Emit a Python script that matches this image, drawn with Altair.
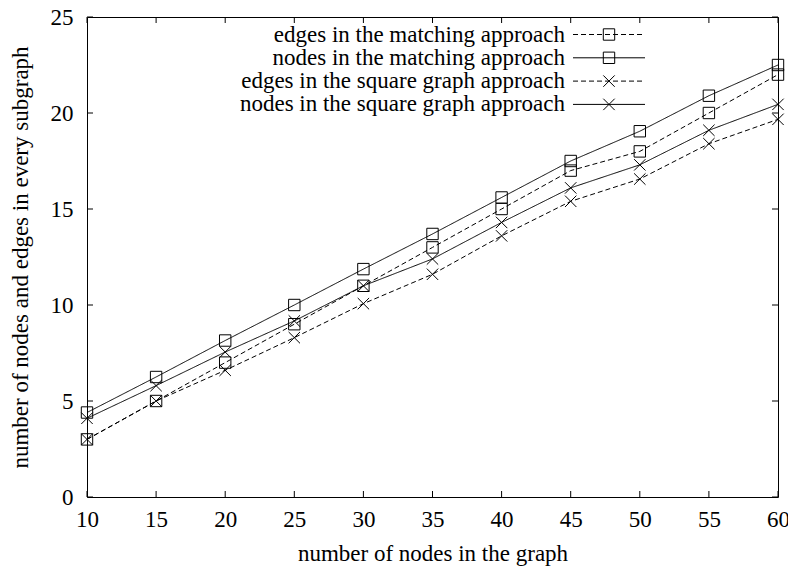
import altair as alt
import pandas as pd

x_vals = [10, 15, 20, 25, 30, 35, 40, 45, 50, 55, 60]
edges_matching = [3.0, 5.0, 7.0, 9.0, 11.0, 13.0, 15.0, 17.0, 18.0, 20.0, 22.0]
nodes_matching = [4.4, 6.25, 8.15, 10.0, 11.87, 13.7, 15.6, 17.5, 19.05, 20.9, 22.5]
edges_square = [3.0, 5.0, 6.6, 8.3, 10.07, 11.6, 13.6, 15.4, 16.56, 18.4, 19.67]
nodes_square = [4.1, 5.8, 7.55, 9.17, 11.0, 12.4, 14.3, 16.1, 17.3, 19.1, 20.45]

series = [
    "edges in the matching approach",
    "nodes in the matching approach",
    "edges in the square graph approach",
    "nodes in the square graph approach",
]
values = [edges_matching, nodes_matching, edges_square, nodes_square]

x_ticks = [10, 15, 20, 25, 30, 35, 40, 45, 50, 55, 60]
y_ticks = [0, 5, 10, 15, 20, 25]

FONT = "Liberation Serif"
FS = 23
W, H = 691, 480
XPATH = "M-1,-1L1,1M-1,1L1,-1"
DASH = [5, 3]
dash_range = [DASH, [1, 0], DASH, [1, 0]]
shape_range = ["square", "square", XPATH, XPATH]

rows = []
for name, vals in zip(series, values):
    for xv, yv in zip(x_vals, vals):
        rows.append({"x": xv, "y": yv, "series": name})
df = pd.DataFrame(rows)

xscale = alt.Scale(domain=[10, 60], nice=False, zero=False)
yscale = alt.Scale(domain=[0, 25], nice=False)

base = alt.Chart(df)
lines = base.mark_line(color="black", strokeWidth=1).encode(
    x=alt.X("x:Q", scale=xscale,
            axis=alt.Axis(values=x_ticks, title="number of nodes in the graph",
                          ticks=False, domain=False, grid=False, labelFlush=False,
                          labelPadding=11, titlePadding=11)),
    y=alt.Y("y:Q", scale=yscale,
            axis=alt.Axis(values=y_ticks, title="number of nodes and edges in every subgraph",
                          ticks=False, domain=False, grid=False, labelFlush=False,
                          labelPadding=14, titlePadding=18)),
    strokeDash=alt.StrokeDash("series:N", scale=alt.Scale(domain=series, range=dash_range), legend=None),
    detail="series:N",
)
points = base.mark_point(color="black", filled=False, size=130, strokeWidth=1, opacity=1).encode(
    x=alt.X("x:Q", scale=xscale),
    y=alt.Y("y:Q", scale=yscale),
    shape=alt.Shape("series:N", scale=alt.Scale(domain=series, range=shape_range), legend=None),
)

xt = pd.DataFrame({"x": x_ticks})
yt = pd.DataFrame({"y": y_ticks})
tick_len = 6
xticks_b = alt.Chart(xt).mark_rule(color="black").encode(x=alt.X("x:Q", scale=xscale), y=alt.value(H), y2=alt.value(H - tick_len))
xticks_t = alt.Chart(xt).mark_rule(color="black").encode(x=alt.X("x:Q", scale=xscale), y=alt.value(0), y2=alt.value(tick_len))
yticks_l = alt.Chart(yt).mark_rule(color="black").encode(y=alt.Y("y:Q", scale=yscale), x=alt.value(0), x2=alt.value(tick_len))
yticks_r = alt.Chart(yt).mark_rule(color="black").encode(y=alt.Y("y:Q", scale=yscale), x=alt.value(W), x2=alt.value(W - tick_len))

legend_layers = []
row_y0, row_dy = 17.5, 23.3
text_right, line_x1, line_x2, sym_x = 478, 486, 558, 522
for i, name in enumerate(series):
    yy = row_y0 + i * row_dy
    ldf = pd.DataFrame({"label": [name]})
    legend_layers.append(
        alt.Chart(ldf).mark_text(align="right", baseline="middle", font=FONT, fontSize=FS, color="black").encode(
            x=alt.value(text_right), y=alt.value(yy), text="label:N"))
    legend_layers.append(
        alt.Chart(ldf).mark_rule(color="black", strokeWidth=1, strokeDash=dash_range[i]).encode(
            x=alt.value(line_x1), x2=alt.value(line_x2), y=alt.value(yy)))
    legend_layers.append(
        alt.Chart(ldf).mark_point(color="black", filled=False, size=130, strokeWidth=1, opacity=1, shape=shape_range[i]).encode(
            x=alt.value(sym_x), y=alt.value(yy)))

chart = alt.layer(
    lines, points, xticks_b, xticks_t, yticks_l, yticks_r, *legend_layers
).properties(
    width=W, height=H,
    background="white",
    autosize=alt.AutoSizeParams(type="none"),
    padding={"left": 79, "top": 9, "right": 10, "bottom": 72},
).configure_view(
    stroke="black", strokeWidth=1
).configure_axis(
    labelFont=FONT, labelFontSize=FS, labelColor="black",
    titleFont=FONT, titleFontSize=FS, titleFontWeight="normal", titleColor="black",
)

chart.save("out.html", embed_options={"renderer": "svg", "actions": False})
